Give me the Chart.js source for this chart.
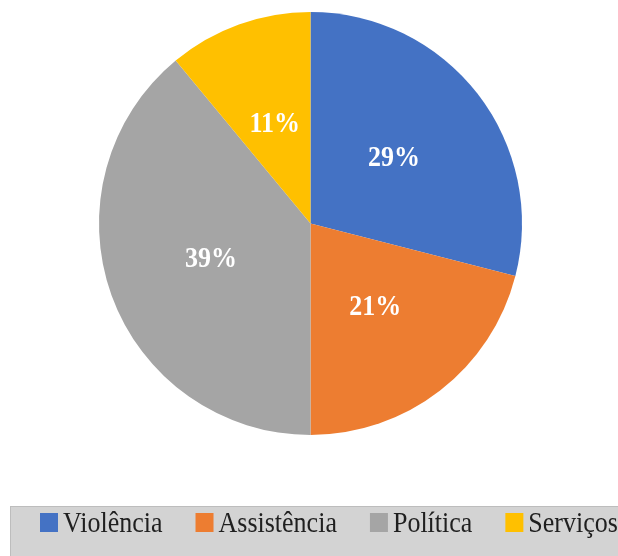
<!DOCTYPE html>
<html>
<head>
<meta charset="utf-8">
<script src="https://cdn.jsdelivr.net/npm/chart.js@4"></script>
<style>
  body { margin: 0; background: #fff; overflow: hidden; }
</style>
</head>
<body>
<canvas id="pie" width="618" height="556"></canvas>
<script>
const categories = ['Violência', 'Assistência', 'Política', 'Serviços'];
const shares = [29, 21, 39, 11];
const colors = ['#4472C4', '#ED7D31', '#A5A5A5', '#FFC000'];

// the source picture is a bit stretched vertically, so is its text
const tallText = (ctx, text, x, y, sy) => {
  ctx.save();
  ctx.translate(x, y);
  ctx.scale(1, sy);
  ctx.fillText(text, 0, 0);
  ctx.restore();
};

// white percentage labels in the middle of each slice
const sliceLabels = {
  id: 'sliceLabels',
  afterDatasetsDraw(chart) {
    const ctx = chart.ctx;
    const data = chart.data.datasets[0].data;
    const total = data.reduce((a, b) => a + b, 0);
    ctx.save();
    ctx.font = 'bold 26px "Liberation Serif"';
    ctx.fillStyle = '#fff';
    ctx.textAlign = 'center';
    ctx.textBaseline = 'middle';
    chart.getDatasetMeta(0).data.forEach((arc, i) => {
      const p = arc.getCenterPoint();
      tallText(ctx, Math.round(data[i] / total * 100) + '%', p.x, p.y, 1.12);
    });
    ctx.restore();
  }
};

// legend in a grey band at the bottom, like the original
const bottomLegend = {
  id: 'bottomLegend',
  afterDraw(chart) {
    const ctx = chart.ctx;
    ctx.save();
    ctx.fillStyle = '#d3d3d3';
    ctx.strokeStyle = '#bdbdbd';
    ctx.fillRect(10, 506, 620, 60);
    ctx.strokeRect(10.5, 506.5, 620, 60);
    ctx.font = '26px "Liberation Serif"';
    ctx.textBaseline = 'alphabetic';
    let x = 40;
    chart.data.labels.forEach((label, i) => {
      ctx.fillStyle = chart.data.datasets[0].backgroundColor[i];
      ctx.fillRect(x, 513, 18, 19);
      ctx.fillStyle = '#1f1f1f';
      tallText(ctx, label, x + 23, 532, 1.1);
      x += 23 + ctx.measureText(label).width + 33;
    });
    ctx.restore();
  }
};

new Chart(document.getElementById('pie'), {
  type: 'pie',
  data: {
    labels: categories,
    datasets: [{
      data: shares,
      backgroundColor: colors,
      borderWidth: 0
    }]
  },
  options: {
    responsive: false,
    animation: false,
    layout: { padding: { top: 12, bottom: 121, left: 3, right: 0 } },
    plugins: {
      legend: { display: false },
      tooltip: { enabled: false }
    }
  },
  plugins: [sliceLabels, bottomLegend]
});
</script>
</body>
</html>
